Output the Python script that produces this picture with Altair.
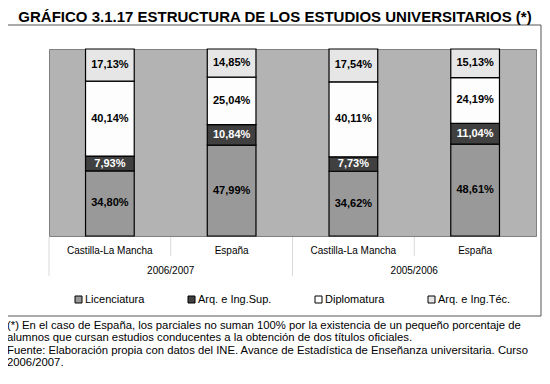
import altair as alt
import pandas as pd

# ---- data ----
years = ["2006/2007", "2006/2007", "2005/2006", "2005/2006"]
regions = ["Castilla-La Mancha", "España", "Castilla-La Mancha", "España"]
types = ["Licenciatura", "Arq. e Ing.Sup.", "Diplomatura", "Arq. e Ing.Téc."]
licenciatura = [34.80, 47.99, 34.62, 48.61]
arq_sup = [7.93, 10.84, 7.73, 11.04]
diplomatura = [40.14, 25.04, 40.11, 24.19]
arq_tec = [17.13, 14.85, 17.54, 15.13]
colors = ["#999999", "#404040", "#fdfdfd", "#e6e6e6"]
y_ticks = [0, 0.2, 0.4, 0.6, 0.8, 1.0]

title_text = "GRÁFICO 3.1.17 ESTRUCTURA DE LOS ESTUDIOS UNIVERSITARIOS (*)"
footnote_lines = [
    "(*) En el caso de España, los parciales no suman 100% por la existencia de un pequeño porcentaje de",
    "alumnos que cursan estudios conducentes a la obtención de dos títulos oficiales.",
    "Fuente: Elaboración propia con datos del INE. Avance de Estadística de Enseñanza universitaria. Curso",
    "2006/2007.",
]

FONT = "Liberation Sans"
HALF_GAP = 36.5  # half of the gap between bars (0.75 * bandwidth)

keys = [f"{y} {r}" for y, r in zip(years, regions)]
series = [licenciatura, arq_sup, diplomatura, arq_tec]
rows = []
for i, k in enumerate(keys):
    for j, (t, s) in enumerate(zip(types, series)):
        v = s[i]
        rows.append(dict(key=k, tipo=t, order=j, value=v,
                         label=f"{v:.2f}".replace(".", ",") + "%"))
df = pd.DataFrame(rows)
cats = pd.DataFrame({"key": keys, "year": years, "region": regions,
                     "first": [True, False, True, False]})
one = pd.DataFrame({"a": [0]})

xscale = alt.Scale(domain=keys, paddingInner=0.6, paddingOuter=0.3)
yscale = alt.Scale(domain=[0, 1], nice=False)

base = alt.Chart(df).transform_stack(
    stack="value", groupby=["key"], as_=["v0", "v1"], offset="normalize",
    sort=[alt.SortField("order", order="ascending")],
).transform_calculate(mid="(datum.v0 + datum.v1) / 2")

bars = base.mark_bar(stroke="black", strokeWidth=1.2).encode(
    x=alt.X("key:N", scale=xscale, axis=None),
    y=alt.Y("v0:Q", scale=yscale, title=None,
            axis=alt.Axis(values=y_ticks, format="%", grid=True,
                          gridColor="#808080", gridWidth=1, tickSize=4,
                          tickColor="#808080", labelPadding=4,
                          labelFontSize=11, labelFont=FONT,
                          labelColor="black", domain=False)),
    y2="v1:Q",
    fill=alt.Fill("tipo:N", scale=alt.Scale(domain=types, range=colors),
                  title=None,
                  legend=alt.Legend(orient="none", legendX=24, legendY=245,
                                    direction="horizontal", symbolType="square",
                                    symbolSize=49, symbolStrokeColor="black",
                                    symbolStrokeWidth=1, labelFont=FONT,
                                    labelFontSize=11, labelColor="black",
                                    labelOffset=1, columnPadding=41)),
)

labels = base.mark_text(font=FONT, fontSize=11, fontWeight="bold").encode(
    x=alt.X("key:N", scale=xscale, axis=None),
    y=alt.Y("mid:Q", scale=yscale, axis=None),
    text="label:N",
    color=alt.condition(alt.datum.tipo == "Arq. e Ing.Sup.",
                        alt.value("white"), alt.value("black")),
)

cat_labels = alt.Chart(cats).mark_text(font=FONT, fontSize=10, color="black").encode(
    x=alt.X("key:N", scale=xscale, axis=None),
    y=alt.value(202),
    text="region:N",
)

year_labels = alt.Chart(cats).transform_filter("datum.first").mark_text(
    font=FONT, fontSize=10, color="black", xOffset=HALF_GAP).encode(
    x=alt.X("key:N", scale=xscale, axis=None, bandPosition=1),
    y=alt.value(222),
    text="year:N",
)

seps_long = alt.Chart(cats).transform_filter("datum.first").mark_rule(
    color="#d9d9d9", strokeWidth=1, xOffset=-HALF_GAP).encode(
    x=alt.X("key:N", scale=xscale, axis=None, bandPosition=0),
    y=alt.value(188), y2=alt.value(227),
)
seps_short = alt.Chart(cats).transform_filter("!datum.first").mark_rule(
    color="#d9d9d9", strokeWidth=1, xOffset=-HALF_GAP).encode(
    x=alt.X("key:N", scale=xscale, axis=None, bandPosition=0),
    y=alt.value(188), y2=alt.value(207),
)

frame = alt.Chart(one).mark_rect(fill="transparent", stroke="#555555",
                                 strokeWidth=1).encode(
    x=alt.value(-43), x2=alt.value(492), y=alt.value(-24), y2=alt.value(267),
)

title = alt.Chart(one).mark_text(font=FONT, fontSize=15, fontWeight="bold",
                                 color="black").encode(
    x=alt.value(226), y=alt.value(-32), text=alt.value(title_text),
)

foot = alt.Chart(one).mark_text(font=FONT, fontSize=11.3, color="black",
                                align="left", baseline="top",
                                lineHeight=12.3).encode(
    x=alt.value(-42), y=alt.value(271), text=alt.value(footnote_lines),
)

chart = alt.layer(frame, bars, labels, cat_labels, year_labels, seps_long,
                  seps_short, title, foot).properties(
    width=487, height=187,
    autosize=alt.AutoSizeParams(type="none"),
    padding={"left": 41, "top": 41, "right": 6, "bottom": 140},
).configure_view(fill="#b3b3b3", stroke="#808080")

chart.save("out.html", embed_options={"renderer": "svg", "actions": False})
